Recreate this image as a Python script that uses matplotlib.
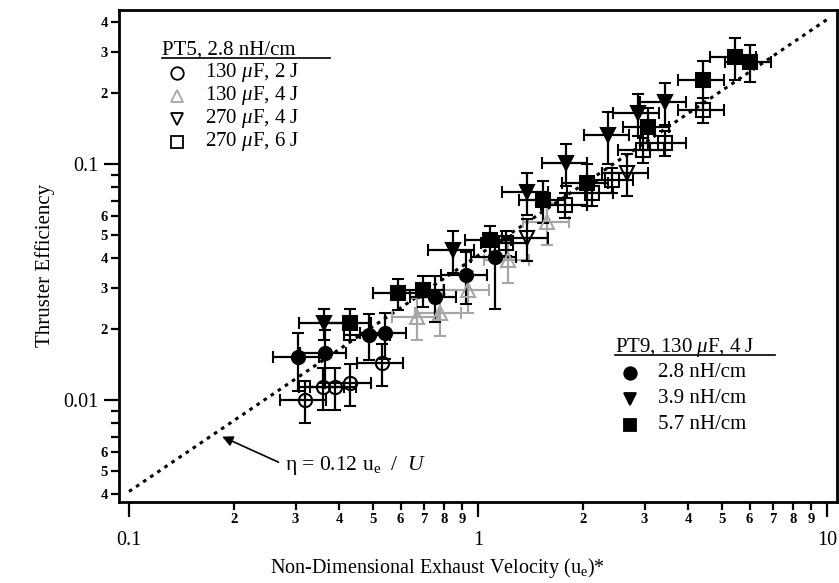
import numpy as np
import matplotlib
matplotlib.use("Agg")
import matplotlib.pyplot as plt
from matplotlib.lines import Line2D

plt.rcParams['font.family'] = ['Liberation Serif', 'DejaVu Serif']
plt.rcParams['mathtext.fontset'] = 'custom'
plt.rcParams['mathtext.rm'] = 'Liberation Serif'
plt.rcParams['mathtext.it'] = 'Liberation Serif:italic'
plt.rcParams['mathtext.bf'] = 'Liberation Serif:bold'

# ---- datos ----
# PT9, 130 uF, 4 J  (simbolos llenos)
pt9_28_x = [0.305, 0.364, 0.487, 0.541, 0.753, 0.924, 1.12]
pt9_28_y = [0.0152, 0.0158, 0.0189, 0.0192, 0.0274, 0.0339, 0.0404]
pt9_28_ylo = [0.28, 0.25, 0.22, 0.22, 0.22, 0.25, 0.40]
pt9_28_yhi = [0.27, 0.25, 0.22, 0.22, 0.22, 0.25, 0.18]

pt9_39_x = [0.362, 0.848, 1.38, 1.79, 2.36, 2.87, 3.43]
pt9_39_y = [0.0212, 0.0433, 0.0762, 0.101, 0.133, 0.165, 0.183]
pt9_39_ye = [0.15, 0.2, 0.2, 0.2, 0.25, 0.2, 0.2]

pt9_57_x = [0.43, 0.59, 0.696, 1.08, 1.54, 2.05, 3.07, 4.41, 5.45, 6.0]
pt9_57_y = [0.0212, 0.0284, 0.0293, 0.0477, 0.0704, 0.0831, 0.1436, 0.227, 0.284, 0.271]
pt9_57_ye = [0.15, 0.15, 0.15, 0.15, 0.2, 0.2, 0.2, 0.2, 0.2, 0.18]

# PT5, 2.8 nH/cm  (simbolos abiertos)
pt5_a_x = [0.319, 0.360, 0.389, 0.430, 0.531]      # 130 uF, 2 J
pt5_a_y = [0.0100, 0.0114, 0.0114, 0.0118, 0.0144]
pt5_b_x = [0.669, 0.778, 0.936, 1.22, 1.58]        # 130 uF, 4 J
pt5_b_y = [0.0225, 0.0234, 0.0293, 0.0392, 0.0568]
pt5_c_x = [1.38, 2.67]                             # 270 uF, 4 J
pt5_c_y = [0.0486, 0.0917]
pt5_d_x = [1.20, 1.78, 2.12, 2.42, 2.97, 3.43, 4.41]  # 270 uF, 6 J
pt5_d_y = [0.0463, 0.0671, 0.0754, 0.0856, 0.1147, 0.1228, 0.1695]

x_err = 0.15     # error relativo en x
y_err = 0.2      # error relativo en y (abiertos)

coef_linea = 0.041   # eta = 0.12 u_e / U

fig = plt.figure(figsize=(8.39, 5.83), dpi=100)
ax = fig.add_axes([0.1418, 0.1389, 0.8558, 0.8439])
ax.set_xscale('log')
ax.set_yscale('log')
ax.set_xlim(0.0936, 10.68)
ax.set_ylim(0.0037, 0.4497)

# linea de referencia
xl = np.array([0.1, 10.0])
ax.plot(xl, coef_linea * xl, color='k', lw=2.2, ls=(0, (1.2, 1.6)), zorder=1)

eb = dict(elinewidth=1.6, capsize=4, capthick=1.6, zorder=3)


def serie(x, y, ylo, yhi, marker, ms, fill, color='k'):
    x = np.array(x)
    y = np.array(y)
    xe = x_err * x
    ye = [np.array(ylo) * y, np.array(yhi) * y]
    ax.errorbar(x, y, xerr=xe, yerr=ye, fmt=marker, ms=ms,
                mfc=color if fill else 'none', mec=color, mew=1.5,
                ecolor=color, **eb)


serie(pt5_a_x, pt5_a_y, [y_err] * 5, [y_err] * 5, 'o', 9.5, False)
serie(pt5_b_x, pt5_b_y, [y_err] * 5, [y_err] * 5, '^', 9.5, False, '0.65')
serie(pt5_c_x, pt5_c_y, [y_err] * 2, [y_err] * 2, 'v', 9.5, False)
serie(pt5_d_x, pt5_d_y, [0.12] * 7, [0.12] * 7, 's', 9.5, False)
serie(pt9_28_x, pt9_28_y, pt9_28_ylo, pt9_28_yhi, 'o', 9.5, True)
serie(pt9_39_x, pt9_39_y, pt9_39_ye, pt9_39_ye, 'v', 9.5, True)
serie(pt9_57_x, pt9_57_y, pt9_57_ye, pt9_57_ye, 's', 9.5, True)

# ejes y ticks
for s in ax.spines.values():
    s.set_linewidth(2)

ax.set_xticks([0.1, 1, 10])
ax.set_xticklabels(['0.1', '1', '10'])
xmin = [m * d for d in (0.1, 1) for m in range(2, 10)]
ax.set_xticks(xmin, minor=True)
ax.set_xticklabels([str(m) for d in (0.1, 1) for m in range(2, 10)], minor=True)

ax.set_yticks([0.01, 0.1])
ax.set_yticklabels(['0.01', '0.1'])
ymin = [m * 0.001 for m in range(4, 10)] + [m * 0.01 for m in range(2, 10)] + [m * 0.1 for m in range(2, 5)]
ylab = {4: '4', 5: '5', 6: '6'}
ylab2 = {2: '2', 3: '3', 4: '4', 5: '5', 6: '6'}
yml = [ylab.get(m, '') for m in range(4, 10)] + [ylab2.get(m, '') for m in range(2, 10)] + ['2', '3', '4']
ax.set_yticks(ymin, minor=True)
ax.set_yticklabels(yml, minor=True)

ax.tick_params(which='major', direction='out', length=11, width=1.6, labelsize=14.5)
ax.tick_params(axis='x', which='major', pad=10)
ax.tick_params(axis='y', which='major', pad=4)
ax.tick_params(which='minor', direction='out', length=6, width=1.6, labelsize=10.5, pad=2)
for t in ax.get_xticklabels(minor=True) + ax.get_yticklabels(minor=True):
    t.set_fontweight('bold')

fig.text(0.521, 0.026, r'Non-Dimensional Exhaust Velocity (u$_\mathregular{e}$)*',
         ha='center', va='center', fontsize=14.5)
fig.text(0.054, 0.5455, 'Thruster Efficiency', rotation=90, ha='center', va='center', fontsize=15)

ax.annotate(r'η = 0.12 u$_\mathregular{e}$  /  $U$', xy=(0.185, 0.0070), xytext=(0.28, 0.0053),
            va='center', ha='left', fontsize=15.5,
            arrowprops=dict(arrowstyle='-|>', color='k', lw=1.2, shrinkA=3, shrinkB=0,
                            relpos=(0.0, 0.5)))

# leyendas hechas a mano
def leyenda(x0, y0, titulo, ancho, filas, dy):
    ax.text(x0, y0, titulo, transform=ax.transAxes, ha='left', va='center', fontsize=15)
    ax.add_line(Line2D([x0, x0 + ancho], [y0 - 0.016, y0 - 0.016], transform=ax.transAxes,
                       color='k', lw=1.2))
    for i, (mk, fill, col, txt) in enumerate(filas):
        yy = y0 - dy * (i + 1)
        ax.plot([x0 + 0.021], [yy], marker=mk, ms=9, mfc=col if fill else 'none', mec=col,
                mew=1.3, transform=ax.transAxes, ls='none')
        ax.text(x0 + 0.060, yy, txt, transform=ax.transAxes, ha='left', va='center', fontsize=15)


leyenda(0.0599, 0.9187, 'PT5, 2.8 nH/cm', 0.234,
        [('o', False, 'k', r'130 $\mu$F, 2 J'),
         ('^', False, '0.65', r'130 $\mu$F, 4 J'),
         ('v', False, 'k', r'270 $\mu$F, 4 J'),
         ('s', False, 'k', r'270 $\mu$F, 6 J')], 0.0465)
leyenda(0.6908, 0.3150, r'PT9, 130 $\mu$F, 4 J', 0.223,
        [('o', True, 'k', '2.8 nH/cm'),
         ('v', True, 'k', '3.9 nH/cm'),
         ('s', True, 'k', '5.7 nH/cm')], 0.0525)

fig.savefig('out.png', dpi=100)
